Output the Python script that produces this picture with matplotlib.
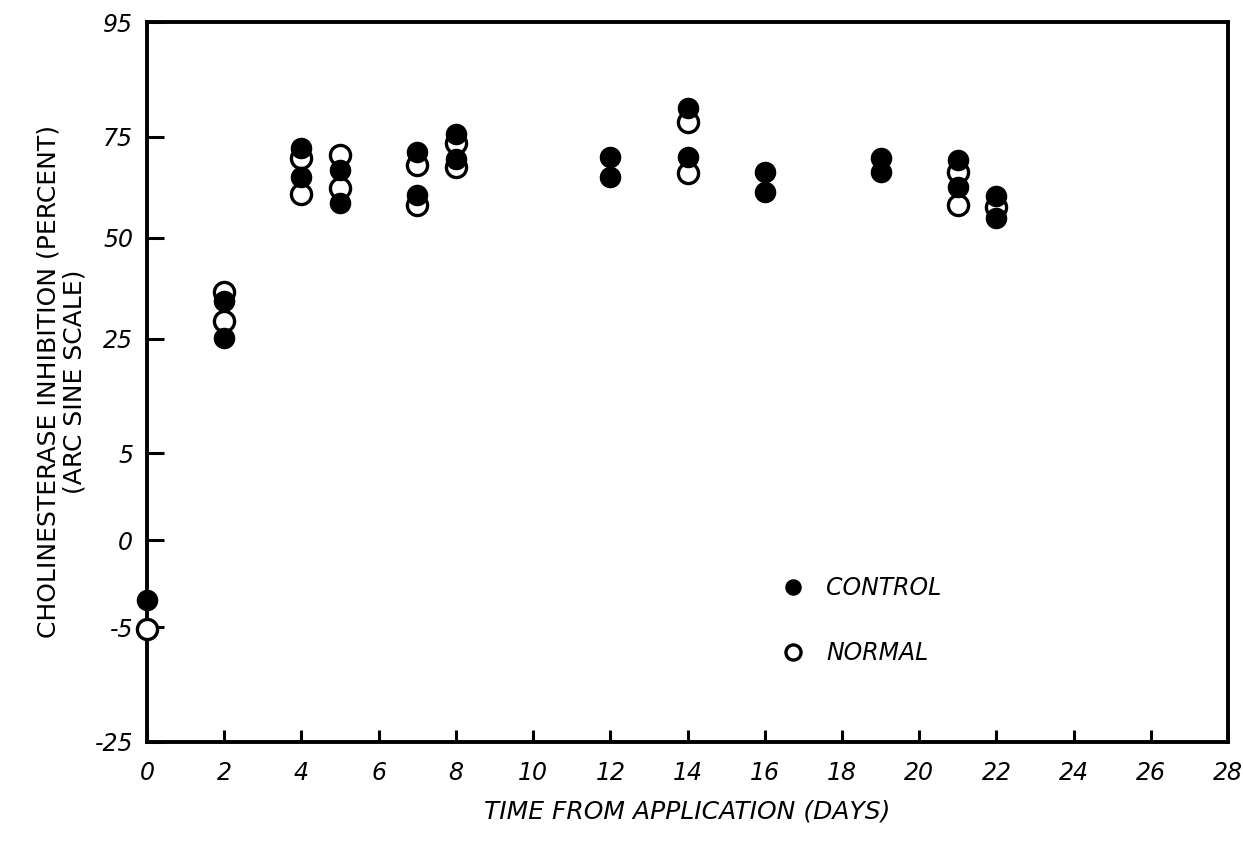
import numpy as np
import matplotlib
matplotlib.use('Agg')
import matplotlib.pyplot as plt

## == data: days after application, inhibition in percent ==
control_days = [0, 2, 2, 4, 4, 5, 5, 7, 7, 8, 8, 12, 12, 14, 14, 16, 16, 19, 19, 21, 21, 22, 22]
control_pct  = [-2.4, 33.9, 25.1, 72.5, 65.5, 67.2, 59.0, 71.5, 61.0, 75.6, 69.9,
                70.3, 65.5, 81.2, 70.3, 66.7, 61.7, 70.1, 66.7, 69.6, 63.0, 60.7, 55.1]

normal_days = [0, 2, 2, 4, 4, 5, 5, 7, 7, 8, 8, 14, 14, 21, 21, 22]
normal_pct  = [-5.2, 36.1, 29.0, 70.1, 61.2, 70.8, 62.7, 68.4, 58.5, 73.6, 67.9,
               78.3, 66.5, 66.7, 58.5, 58.0]

x_ticks = np.arange(0, 29, 2)
y_ticks = [-25, -5, 0, 5, 25, 50, 75, 95]

## == arc sine scale (signed, so the axis can run below zero) ==
def asin_fwd(p):
    p = np.asarray(p, dtype=float)
    return np.sign(p) * np.degrees(np.arcsin(np.sqrt(np.clip(np.abs(p), 0, 100) / 100)))

def asin_inv(a):
    a = np.asarray(a, dtype=float)
    return np.sign(a) * 100 * np.sin(np.radians(np.abs(a)))**2

plt.rcParams['font.family'] = 'DejaVu Sans'

fig = plt.figure(figsize=(12.43, 8.47), dpi=100)
ax = fig.add_axes([0.1183, 0.124, 0.8697, 0.850])

ax.set_yscale('function', functions=(asin_fwd, asin_inv))
ax.set_xlim(0, 28)
ax.set_ylim(-25, 95)

# open circles first, filled ones sit on top where they overlap
ax.plot(normal_days, normal_pct, 'o', ms=14.5, mfc='white', mec='black', mew=2.4,
        ls='none', label='NORMAL', clip_on=False, zorder=3)
ax.plot(control_days, control_pct, 'o', ms=14.5, mfc='black', mec='black',
        ls='none', label='CONTROL', clip_on=False, zorder=4)

ax.set_xticks(x_ticks)
ax.set_yticks(y_ticks)
ax.set_xticklabels([str(v) for v in x_ticks], fontsize=17, style='italic')
ax.set_yticklabels([str(v) for v in y_ticks], fontsize=17, style='italic')
ax.tick_params(axis='both', direction='in', width=2.2, color='black')
ax.tick_params(axis='x', length=9, top=False, pad=14)
ax.tick_params(axis='y', length=12, right=False, pad=10)
ax.yaxis.set_minor_locator(matplotlib.ticker.NullLocator())

for side in ax.spines.values():
    side.set_linewidth(2.8)

ax.set_xlabel('TIME FROM APPLICATION (DAYS)', fontsize=18, style='italic', labelpad=10)
ax.set_ylabel('CHOLINESTERASE INHIBITION (PERCENT)\n(ARC SINE SCALE)', fontsize=18,
              labelpad=6, linespacing=1.1)

handles, labels = ax.get_legend_handles_labels()
leg = ax.legend(handles[::-1], labels[::-1], loc='upper left', bbox_to_anchor=(0.567, 0.26),
                frameon=False, fontsize=17, labelspacing=1.75, handletextpad=0.9,
                handlelength=1.0, markerscale=0.75)
for t in leg.get_texts():
    t.set_fontstyle('italic')

fig.savefig('out.png', dpi=100, facecolor='white')
